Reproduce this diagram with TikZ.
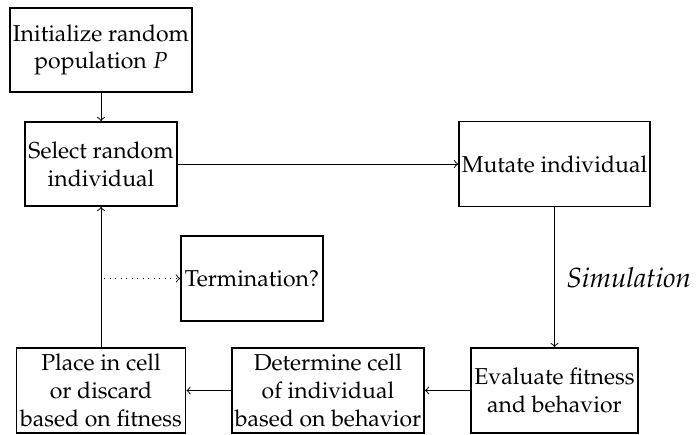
\documentclass[tikz,border=0pt]{standalone}
\usepackage[T1]{fontenc}
\usepackage{mathpazo}
% one drawing unit = one pixel of the final image
\newcommand\pxu{0.4348pt}
\begin{document}
\begin{tikzpicture}[x=\pxu,y=-\pxu,
  stepbox/.style={draw,thick,align=center,inner sep=0pt,minimum height=85*\pxu},
  flow/.style={->},
  hint/.style={->,dotted}]
\useasboundingbox (0,0) rectangle (696,434);

% process steps
\node[stepbox,minimum width=182*\pxu,minimum height=84*\pxu] (init) at (101,50)
  {Initialize random\\population $P$};
\node[stepbox,minimum width=152*\pxu,minimum height=84*\pxu] (select) at (101,164)
  {Select random\\individual};
\node[stepbox,minimum width=191*\pxu] (mutate) at (554.5,164) {Mutate individual};
\node[stepbox,minimum width=142*\pxu] (term) at (252,278.5) {Termination?};
\node[stepbox,minimum width=169*\pxu] (place) at (101,390.5)
  {Place in cell\\or discard\\based on fitness};
\node[stepbox,minimum width=192*\pxu] (determine) at (328,390.5)
  {Determine cell\\of individual\\based on behavior};
\node[stepbox,minimum width=167*\pxu] (evaluate) at (554.5,390.5)
  {Evaluate fitness\\and behavior};

% loop connectors
\draw[flow] (init.south) -- (select.north);
\draw[flow] (select.east) -- (mutate.west);
\draw[flow] (mutate.south) -- node[right=4*\pxu,font=\large\itshape] (sim) {Simulation} (evaluate.north);
\draw[flow] (evaluate.west) -- (determine.east);
\draw[flow] (determine.west) -- (place.east);
\draw[flow] (place.north) -- (select.south);

% termination check branching off the return path
\coordinate (tap) at (104,278.5);
\draw[hint] (tap) -- (term.west);
\end{tikzpicture}
\end{document}
